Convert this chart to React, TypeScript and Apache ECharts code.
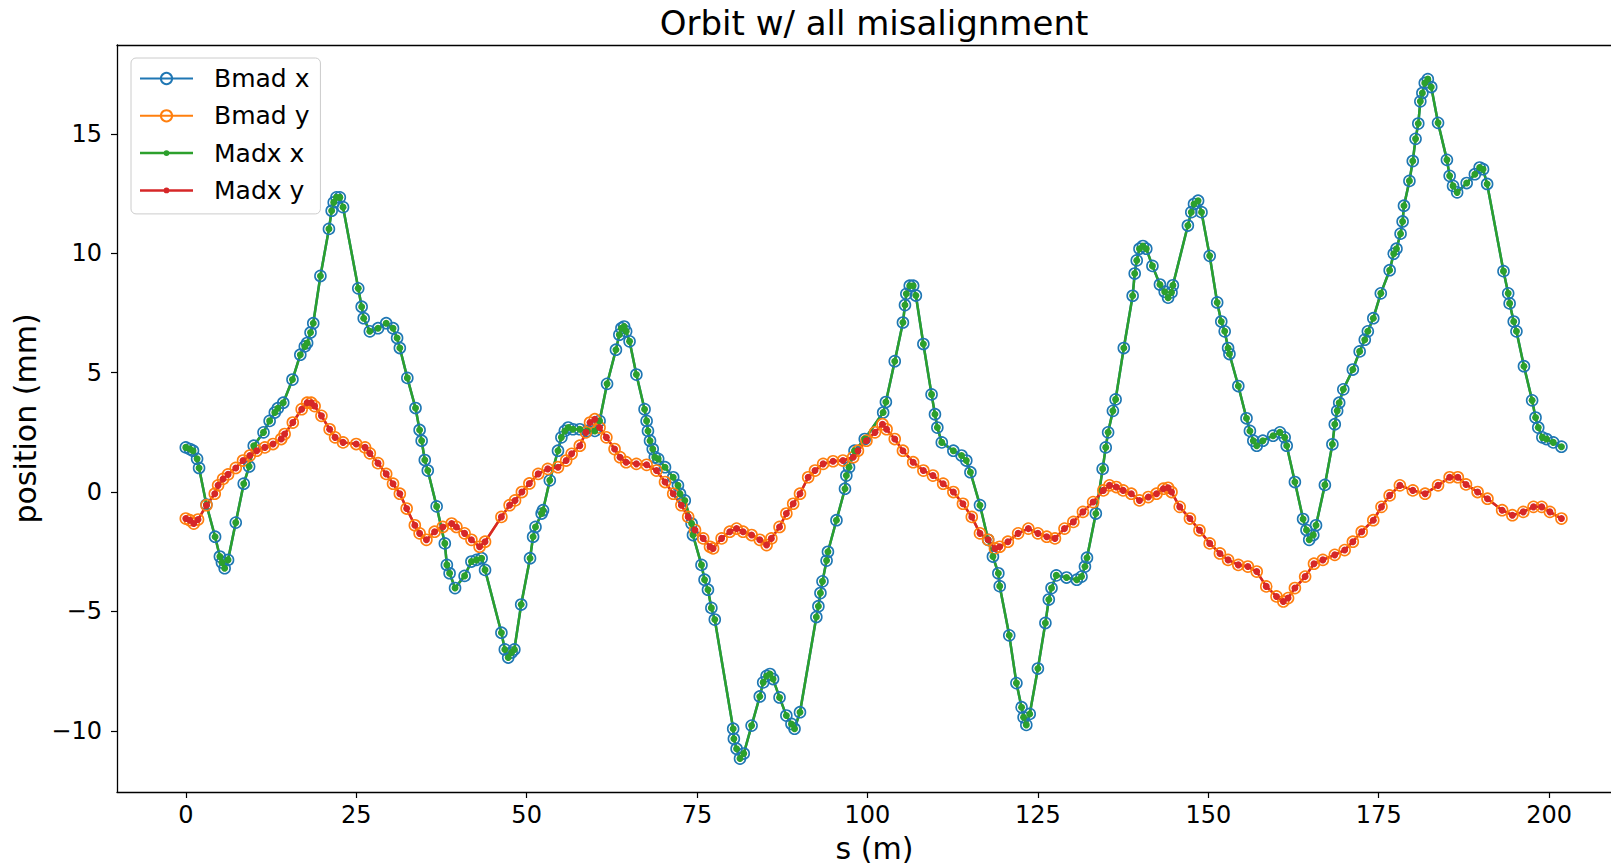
import React, { useEffect, useRef } from "react";
import * as echarts from "echarts";

// ---- data ----
const sX = [
  0, 0.59, 1.06, 1.66, 1.95, 3.03, 4.3, 5.0, 5.3, 5.7, 6.2, 7.33, 8.5, 9.3, 9.97, 11.4, 12.3, 13.06, 13.5, 14.3,
  15.65, 16.8, 17.46, 17.8, 18.3, 18.7, 19.75, 21.0, 21.4, 21.7, 22.1, 22.6, 23.07, 25.3, 25.8, 26.1, 27.0, 28.2, 29.4, 30.4,
  31.0, 31.4, 32.5, 33.7, 34.3, 34.6, 35.06, 35.5, 36.8, 38.0, 38.3, 38.7, 39.5, 40.9, 41.9, 42.65, 43.4, 43.9, 46.3, 46.8,
  47.3, 47.8, 48.2, 49.2, 50.5, 50.95, 51.3, 52.2, 52.4, 53.4, 54.6, 55.1, 55.6, 56.1, 56.8, 57.8, 58.9, 60.0, 60.7, 61.8,
  63.1, 63.6, 63.9, 64.3, 64.6, 65.1, 66.1, 67.3, 67.6, 67.8, 68.1, 68.5, 68.8, 69.3, 70.3, 71.5, 72.2, 72.5, 73.2, 74.2,
  74.4, 75.65, 76.1, 76.6, 77.1, 77.6, 80.3, 80.4, 80.8, 81.3, 81.85, 83.0, 84.2, 84.7, 85.2, 85.7, 86.15, 87.1, 88.1, 88.85,
  89.3, 90.1, 92.5, 92.8, 93.1, 93.4, 94.0, 94.2, 95.45, 96.7, 96.9, 97.3, 98.1, 99.6, 102.3, 102.7, 104.0, 105.2, 105.5, 105.7,
  106.2, 106.7, 107.1, 108.2, 109.4, 109.9, 110.25, 110.9, 112.6, 113.8, 114.5, 115.1, 116.5, 117.7, 118.4, 119.2, 119.4, 120.8, 121.85, 122.6,
  122.9, 123.3, 123.8, 125.0, 126.1, 126.6, 127.0, 127.7, 129.2, 130.7, 131.4, 131.9, 132.2, 133.5, 134.5, 134.95, 135.3, 136.0, 136.4, 137.6,
  138.9, 139.2, 139.5, 139.9, 140.4, 140.9, 141.8, 142.9, 143.6, 144.1, 144.6, 144.8, 147.0, 147.5, 147.9, 148.5, 149.0, 150.2, 151.3, 151.9,
  152.4, 152.9, 153.1, 154.4, 155.6, 156.1, 156.6, 157.1, 158.0, 159.5, 160.5, 161.2, 161.5, 162.7, 163.9, 164.4, 164.8, 165.4, 165.8, 167.1,
  168.2, 168.55, 168.9, 169.2, 169.8, 171.2, 172.2, 172.95, 173.4, 174.2, 175.3, 176.6, 177.2, 177.6, 178.2, 178.5, 178.7, 179.5, 179.99, 180.4,
  180.8, 181.1, 181.4, 181.75, 182.2, 182.7, 183.7, 185.0, 185.4, 185.9, 186.5, 187.9, 189.1, 189.8, 190.3, 190.9, 193.3, 193.99, 194.2, 194.8,
  195.2, 196.3, 197.5, 198.0, 198.4, 199.0, 199.6, 200.6, 201.8,
];
const xPos = [
  1.87, 1.8, 1.73, 1.39, 1.01, -0.53, -1.87, -2.7, -2.95, -3.19, -2.84, -1.28, 0.35, 1.07, 1.94, 2.5, 2.98, 3.33, 3.51, 3.74,
  4.71, 5.75, 6.1, 6.24, 6.68, 7.07, 9.05, 11.02, 11.78, 12.13, 12.34, 12.34, 11.93, 8.53, 7.76, 7.28, 6.73, 6.86, 7.07, 6.86,
  6.45, 6.03, 4.78, 3.52, 2.6, 2.15, 1.34, 0.9, -0.6, -2.15, -3.05, -3.4, -4.02, -3.51, -2.91, -2.84, -2.77, -3.26, -5.89, -6.59,
  -6.93, -6.72, -6.59, -4.71, -2.77, -1.87, -1.46, -0.9, -0.76, 0.49, 1.73, 2.29, 2.56, 2.7, 2.63, 2.63, 2.56, 2.56, 2.98, 4.53,
  5.96, 6.59, 6.86, 6.93, 6.73, 6.31, 4.92, 3.47, 2.98, 2.56, 2.15, 1.8, 1.46, 1.39, 1.04, 0.62, 0.28, -0.07, -0.35, -1.32,
  -1.8, -3.05, -3.67, -4.09, -4.85, -5.34, -9.91, -10.33, -10.75, -11.16, -10.95, -9.78, -8.56, -7.97, -7.7, -7.62, -7.83, -8.6, -9.36, -9.71,
  -9.91, -9.22, -5.23, -4.78, -4.23, -3.74, -2.87, -2.5, -1.18, 0.14, 0.69, 1.04, 1.73, 2.22, 3.33, 3.77, 5.48, 7.1, 7.83, 8.3,
  8.64, 8.64, 8.23, 6.2, 4.09, 3.26, 2.7, 2.08, 1.73, 1.53, 1.32, 0.83, -0.55, -2.0, -2.7, -3.4, -3.94, -6.0, -8.0, -9.01,
  -9.43, -9.75, -9.29, -7.39, -5.48, -4.5, -4.02, -3.49, -3.58, -3.67, -3.54, -3.12, -2.75, -0.9, 0.97, 1.87, 2.5, 3.4, 3.88, 6.03,
  8.22, 9.15, 9.7, 10.19, 10.3, 10.19, 9.47, 8.69, 8.39, 8.14, 8.36, 8.66, 11.16, 11.72, 12.06, 12.2, 11.72, 9.89, 7.94, 7.14,
  6.73, 6.03, 5.78, 4.44, 3.09, 2.56, 2.15, 1.94, 2.15, 2.36, 2.5, 2.29, 1.94, 0.42, -1.13, -1.59, -2.0, -1.8, -1.39, 0.3,
  2.0, 2.84, 3.4, 3.74, 4.3, 5.13, 5.89, 6.38, 6.73, 7.28, 8.32, 9.29, 9.98, 10.19, 10.82, 11.33, 11.99, 13.03, 13.86, 14.79,
  15.43, 16.36, 16.71, 17.13, 17.29, 16.96, 15.46, 13.91, 13.24, 12.82, 12.55, 12.94, 13.31, 13.59, 13.52, 12.9, 9.25, 8.32, 7.9, 7.14,
  6.73, 5.27, 3.84, 3.12, 2.7, 2.29, 2.22, 2.08, 1.9,
];

const sY = [
  0, 0.59, 1.17, 1.8, 3.04, 4.25, 4.74, 5.47, 6.2, 7.33, 8.4, 9.4, 10.4, 11.6, 12.8, 14.0, 14.5, 15.7, 17.0, 17.8,
  18.4, 18.9, 19.9, 21.1, 21.9, 23.07, 25.0, 26.3, 27.0, 28.2, 29.4, 30.4, 31.4, 32.4, 33.6, 34.3, 35.3, 36.5, 37.7, 39.0,
  39.7, 40.9, 41.9, 43.1, 43.9, 46.3, 47.5, 48.3, 49.3, 50.4, 51.7, 53.1, 54.6, 55.8, 56.6, 57.8, 58.7, 59.3, 60.0, 60.7,
  61.7, 62.9, 63.7, 64.6, 66.1, 67.6, 69.05, 70.3, 71.5, 72.7, 73.7, 74.7, 75.9, 76.9, 77.35, 78.6, 79.8, 80.8, 81.75, 83.0,
  84.2, 85.2, 85.9, 87.1, 88.1, 89.1, 90.1, 91.3, 92.3, 93.5, 94.95, 96.4, 97.9, 98.6, 99.85, 101.1, 102.2, 102.8, 104.0, 105.2,
  106.7, 108.2, 109.6, 111.1, 112.6, 114.0, 115.3, 116.5, 117.7, 118.7, 119.4, 120.6, 122.1, 123.6, 125.0, 126.3, 127.5, 128.9, 130.2, 131.6,
  133.1, 134.6, 135.5, 136.5, 137.5, 138.7, 139.9, 141.2, 142.4, 143.4, 144.1, 144.6, 145.8, 147.3, 148.7, 150.2, 151.7, 152.9, 154.4, 155.8,
  157.1, 158.5, 160.0, 161.0, 161.7, 162.7, 164.2, 165.5, 166.8, 168.55, 170.0, 171.2, 172.5, 174.2, 175.4, 176.6, 178.1, 180.0, 181.8, 183.7,
  185.4, 186.6, 187.8, 189.5, 190.95, 193.1, 194.6, 196.2, 197.7, 198.9, 200.1, 201.8,
];
const yPos = [
  -1.11, -1.18, -1.32, -1.15, -0.55, -0.07, 0.28, 0.55, 0.74, 1.01, 1.32, 1.53, 1.73, 1.87, 2.01, 2.22, 2.43, 2.91, 3.47, 3.74,
  3.74, 3.6, 3.19, 2.63, 2.29, 2.08, 2.01, 1.87, 1.62, 1.21, 0.76, 0.35, -0.07, -0.69, -1.39, -1.73, -2.0, -1.66, -1.46, -1.32,
  -1.46, -1.73, -2.0, -2.29, -2.08, -1.04, -0.55, -0.35, 0, 0.36, 0.76, 0.97, 1.04, 1.32, 1.6, 1.94, 2.5, 2.91, 3.05, 2.7,
  2.29, 1.8, 1.46, 1.25, 1.18, 1.14, 0.9, 0.42, -0.07, -0.55, -1.04, -1.59, -1.94, -2.29, -2.36, -1.94, -1.66, -1.53, -1.66, -1.8,
  -2.0, -2.22, -1.94, -1.46, -0.9, -0.49, -0.07, 0.62, 0.9, 1.18, 1.29, 1.32, 1.46, 1.73, 2.15, 2.5, 2.84, 2.63, 2.22, 1.73,
  1.25, 0.9, 0.69, 0.35, 0, -0.49, -1.04, -1.73, -2.0, -2.36, -2.29, -2.08, -1.73, -1.53, -1.73, -1.87, -1.94, -1.53, -1.25, -0.83,
  -0.42, 0.07, 0.28, 0.21, 0.07, -0.07, -0.35, -0.21, -0.07, 0.14, 0.18, 0, -0.62, -1.11, -1.6, -2.15, -2.57, -2.84, -3.05, -3.12,
  -3.33, -3.95, -4.37, -4.58, -4.44, -4.02, -3.54, -3.0, -2.84, -2.63, -2.43, -2.08, -1.66, -1.18, -0.62, -0.14, 0.28, 0.07, -0.07, 0.28,
  0.62, 0.62, 0.32, 0, -0.28, -0.76, -0.97, -0.83, -0.62, -0.62, -0.83, -1.11,
];

const xTicks = [0, 25, 50, 75, 100, 125, 150, 175, 200];
const yTicks = [-10, -5, 0, 5, 10, 15];
const seriesNames = ["Bmad x", "Bmad y", "Madx x", "Madx y"];
const TITLE = "Orbit w/ all misalignment";

const FONT = "DejaVu Sans";
const C = { blue: "#1f77b4", orange: "#ff7f0e", green: "#2ca02c", red: "#d62728" };

// visible x-range (the reference picture is cropped on the right)
const X_MIN = -10.09;
const X_MAX = 209.07;
const Y_MIN = -12.56;
const Y_MAX = 18.72;

const madxIcon =
  "path://M0 0 Z M53 14 Z M0 5.75 L53 5.75 L53 8.25 L0 8.25 Z M23.6 7 A2.9 2.9 0 1 1 29.4 7 A2.9 2.9 0 1 1 23.6 7 Z";

const fmtMinus = (v: number) => String(v).replace("-", "\u2212");
const spine = { show: true, onZero: false, lineStyle: { color: "#000", width: 1.3 } };

export default function App() {
  const ref = useRef<HTMLDivElement>(null);
  useEffect(() => {
    if (!ref.current) return;
    const chart = echarts.init(ref.current, null, { renderer: "svg" });
    const xData = sX.map((s, i) => [s, xPos[i]]);
    const yData = sY.map((s, i) => [s, yPos[i]]);
    const bmad = (name: string, color: string, data: number[][]) => ({
      name,
      type: "line",
      data,
      xAxisIndex: 0,
      showAllSymbol: true,
      symbol: "circle",
      symbolSize: 11,
      color,
      lineStyle: { color, width: 2.5 },
      itemStyle: { color: "rgba(255,255,255,0)", borderColor: color, borderWidth: 1.6 },
      emphasis: { disabled: true },
      silent: true,
    });
    const madx = (name: string, color: string, data: number[][]) => ({
      name,
      type: "line",
      data,
      xAxisIndex: 0,
      showAllSymbol: true,
      symbol: "circle",
      symbolSize: 7,
      color,
      lineStyle: { color, width: 2.5 },
      itemStyle: { color },
      emphasis: { disabled: true },
      silent: true,
    });
    chart.setOption({
      animation: false,
      backgroundColor: "#ffffff",
      title: {
        text: TITLE,
        left: 874,
        top: 6,
        padding: 0,
        textAlign: "center",
        textStyle: { fontFamily: FONT, fontSize: 34, fontWeight: "normal", color: "#000" },
      },
      grid: {
        left: 117,
        right: 0,
        top: 45,
        bottom: 71,
        show: false,
        containLabel: false,
      },
      legend: {
        orient: "vertical",
        left: 131,
        top: 58,
        itemWidth: 53,
        itemHeight: 14,
        itemGap: 12.3,
        padding: [8, 11, 11, 8],
        backgroundColor: "rgba(255,255,255,0.8)",
        borderColor: "#cccccc",
        borderWidth: 1,
        borderRadius: 5,
        selectedMode: false,
        textStyle: { fontFamily: FONT, fontSize: 25, color: "#000", lineHeight: 25, padding: [0, 0, 0, 16] },
        data: [
          { name: seriesNames[0] },
          { name: seriesNames[1] },
          { name: seriesNames[2], icon: madxIcon },
          { name: seriesNames[3], icon: madxIcon },
        ],
      },
      xAxis: [
        {
          type: "value",
          position: "bottom",
          min: X_MIN,
          max: X_MAX,
          name: "s (m)",
          nameLocation: "middle",
          nameGap: 41,
          nameTextStyle: { fontFamily: FONT, fontSize: 30, color: "#000", padding: [0, 0, 0, 21] },
          axisLine: spine,
          axisTick: { show: true, inside: false, length: 6, customValues: xTicks, lineStyle: { color: "#000", width: 1.2 } },
          axisLabel: {
            customValues: xTicks,
            margin: 11,
            fontFamily: FONT,
            fontSize: 24,
            color: "#000",
            formatter: fmtMinus,
          },
          splitLine: { show: false },
        },
        {
          type: "value",
          position: "top",
          min: X_MIN,
          max: X_MAX,
          axisLine: spine,
          axisTick: { show: false },
          axisLabel: { show: false },
          splitLine: { show: false },
        },
      ],
      yAxis: {
        type: "value",
        min: Y_MIN,
        max: Y_MAX,
        name: "position (mm)",
        nameLocation: "middle",
        nameGap: 69,
        nameTextStyle: { fontFamily: FONT, fontSize: 30, color: "#000" },
        axisLine: spine,
        axisTick: { show: true, inside: false, length: 6, customValues: yTicks, lineStyle: { color: "#000", width: 1.2 } },
        axisLabel: {
          customValues: yTicks,
          margin: 15,
          fontFamily: FONT,
          fontSize: 24,
          color: "#000",
          formatter: fmtMinus,
        },
        splitLine: { show: false },
      },
      series: [
        bmad(seriesNames[0], C.blue, xData),
        bmad(seriesNames[1], C.orange, yData),
        madx(seriesNames[2], C.green, xData),
        madx(seriesNames[3], C.red, yData),
      ],
    });
    return () => chart.dispose();
  }, []);
  return (
    <div
      ref={ref}
      style={{ position: "fixed", left: 0, top: 0, width: 1611, height: 868, background: "#fff", overflow: "hidden" }}
    />
  );
}
